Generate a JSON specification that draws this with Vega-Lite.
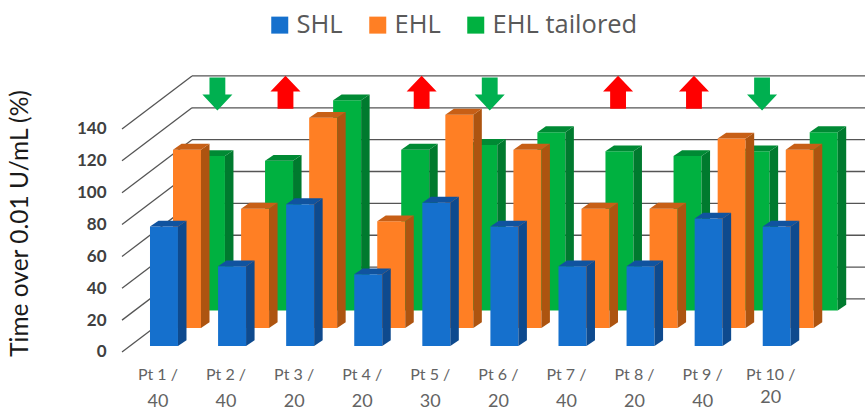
{
  "$schema": "https://vega.github.io/schema/vega-lite/v6.json",
  "width": 750,
  "height": 351,
  "padding": {"left": 115, "top": 60, "right": 0, "bottom": 0},
  "autosize": {"type": "none"},
  "background": "white",
  "config": {"view": {"stroke": null}, "font": "Lato"},
  "datasets": {
    "bars": [
      {"pt": 1, "patient": "Pt 1 /", "dose": "40", "series": "SHL", "value": 75},
      {"pt": 2, "patient": "Pt 2 /", "dose": "40", "series": "SHL", "value": 50},
      {"pt": 3, "patient": "Pt 3 /", "dose": "20", "series": "SHL", "value": 89},
      {"pt": 4, "patient": "Pt 4 /", "dose": "20", "series": "SHL", "value": 45},
      {"pt": 5, "patient": "Pt 5 /", "dose": "30", "series": "SHL", "value": 90},
      {"pt": 6, "patient": "Pt 6 /", "dose": "20", "series": "SHL", "value": 75},
      {"pt": 7, "patient": "Pt 7 /", "dose": "40", "series": "SHL", "value": 50},
      {"pt": 8, "patient": "Pt 8 /", "dose": "20", "series": "SHL", "value": 50},
      {"pt": 9, "patient": "Pt 9 /", "dose": "40", "series": "SHL", "value": 80},
      {"pt": 10, "patient": "Pt 10 /", "dose": "20", "series": "SHL", "value": 75},
      {"pt": 1, "patient": "Pt 1 /", "dose": "40", "series": "EHL", "value": 112},
      {"pt": 2, "patient": "Pt 2 /", "dose": "40", "series": "EHL", "value": 75},
      {"pt": 3, "patient": "Pt 3 /", "dose": "20", "series": "EHL", "value": 132},
      {"pt": 4, "patient": "Pt 4 /", "dose": "20", "series": "EHL", "value": 67},
      {"pt": 5, "patient": "Pt 5 /", "dose": "30", "series": "EHL", "value": 134},
      {"pt": 6, "patient": "Pt 6 /", "dose": "20", "series": "EHL", "value": 112},
      {"pt": 7, "patient": "Pt 7 /", "dose": "40", "series": "EHL", "value": 75},
      {"pt": 8, "patient": "Pt 8 /", "dose": "20", "series": "EHL", "value": 75},
      {"pt": 9, "patient": "Pt 9 /", "dose": "40", "series": "EHL", "value": 119},
      {"pt": 10, "patient": "Pt 10 /", "dose": "20", "series": "EHL", "value": 112},
      {"pt": 1, "patient": "Pt 1 /", "dose": "40", "series": "EHL tailored", "value": 97},
      {"pt": 2, "patient": "Pt 2 /", "dose": "40", "series": "EHL tailored", "value": 94},
      {"pt": 3, "patient": "Pt 3 /", "dose": "20", "series": "EHL tailored", "value": 132},
      {"pt": 4, "patient": "Pt 4 /", "dose": "20", "series": "EHL tailored", "value": 101},
      {"pt": 5, "patient": "Pt 5 /", "dose": "30", "series": "EHL tailored", "value": 104},
      {"pt": 6, "patient": "Pt 6 /", "dose": "20", "series": "EHL tailored", "value": 112},
      {"pt": 7, "patient": "Pt 7 /", "dose": "40", "series": "EHL tailored", "value": 100},
      {"pt": 8, "patient": "Pt 8 /", "dose": "20", "series": "EHL tailored", "value": 97},
      {"pt": 9, "patient": "Pt 9 /", "dose": "40", "series": "EHL tailored", "value": 100},
      {"pt": 10, "patient": "Pt 10 /", "dose": "20", "series": "EHL tailored", "value": 112}
    ],
    "ticks": [
      {"tick": 0}, {"tick": 20}, {"tick": 40}, {"tick": 60},
      {"tick": 80}, {"tick": 100}, {"tick": 120}, {"tick": 140}
    ],
    "changes": [
      {"pt": 1, "change": "down"},
      {"pt": 2, "change": "up"},
      {"pt": 4, "change": "up"},
      {"pt": 5, "change": "down"},
      {"pt": 7, "change": "up"},
      {"pt": 8, "change": "up"},
      {"pt": 9, "change": "down"}
    ]
  },
  "data": {"name": "bars"},
  "transform": [
    {"calculate": "datum.series === 'SHL' ? 0 : datum.series === 'EHL' ? 0.338 : 0.69", "as": "slotOffset"},
    {"calculate": "datum.series === 'SHL' ? 3.75 : datum.series === 'EHL' ? 15 : 26", "as": "floor"},
    {"calculate": "datum.pt - 1 + datum.slotOffset", "as": "left"},
    {"calculate": "datum.left + 0.411", "as": "right"},
    {"calculate": "datum.floor + datum.value", "as": "top"},
    {"calculate": "[0, 1]", "as": "depth"},
    {"flatten": ["depth"]},
    {"calculate": "datum.right + datum.depth * 0.125", "as": "sideX"},
    {"calculate": "datum.floor + datum.depth * 3.7", "as": "sideLow"},
    {"calculate": "datum.top + datum.depth * 3.7", "as": "sideHigh"},
    {"calculate": "datum.left + datum.depth * 0.125", "as": "capLeft"}
  ],
  "layer": [
    {
      "data": {"name": "ticks"},
      "transform": [{"calculate": "datum.tick + 33.3", "as": "wall"}],
      "mark": {"type": "rule", "color": "#555555", "strokeWidth": 1.3},
      "encoding": {
        "x": {"datum": 0.617, "type": "quantitative", "scale": {"domain": [-0.514, 10.502], "nice": false, "zero": false}, "axis": null},
        "x2": {"datum": 10.502},
        "y": {
          "field": "wall",
          "type": "quantitative",
          "scale": {"domain": [-37.04, 183.3], "nice": false, "zero": false},
          "axis": {
            "title": "Time over 0.01 U/mL (%)",
            "titleFont": "Lato",
            "titleFontSize": 24.5,
            "titleFontWeight": "normal",
            "titleColor": "#1a1a1a",
            "titleX": -83,
            "titleY": 163,
            "values": [0, 20, 40, 60, 80, 100, 120, 140],
            "domain": false,
            "ticks": false,
            "grid": false,
            "labelFont": "Lato",
            "labelFontSize": 17,
            "labelFontWeight": "bold",
            "labelColor": "#404040",
            "labelPadding": 9,
            "labelOverlap": false
          }
        }
      }
    },
    {
      "data": {"name": "ticks"},
      "transform": [{"calculate": "datum.tick + 33.3", "as": "wall"}],
      "mark": {"type": "rule", "color": "#555555", "strokeWidth": 1.3},
      "encoding": {
        "x": {"datum": -0.411, "type": "quantitative", "axis": null},
        "x2": {"datum": 0.617},
        "y": {"field": "tick", "type": "quantitative"},
        "y2": {"field": "wall"}
      }
    },
    {
      "data": {"name": "changes"},
      "transform": [
        {"filter": "datum.change === 'up'"},
        {"calculate": "datum.pt - 1 + (datum.pt === 7 ? 0.875 : 0.99)", "as": "slot"},
        {"calculate": "163", "as": "level"}
      ],
      "mark": {
        "type": "point",
        "filled": true,
        "opacity": 1,
        "color": "#ff0000",
        "size": 1089,
        "shape": "M0,-1 L0.91,-0.05 L0.48,-0.05 L0.48,1 L-0.48,1 L-0.48,-0.05 L-0.91,-0.05 Z"
      },
      "encoding": {
        "x": {"field": "slot", "type": "quantitative", "axis": null},
        "y": {"field": "level", "type": "quantitative"}
      }
    },
    {
      "data": {"name": "changes"},
      "transform": [
        {"filter": "datum.change === 'down'"},
        {"calculate": "datum.pt - 1 + 0.99", "as": "slot"},
        {"calculate": "162", "as": "level"}
      ],
      "mark": {
        "type": "point",
        "filled": true,
        "opacity": 1,
        "color": "#00b050",
        "size": 1089,
        "shape": "M-0.48,-1 L0.48,-1 L0.48,0.04 L0.91,0.04 L0,1 L-0.91,0.04 L-0.48,0.04 Z"
      },
      "encoding": {
        "x": {"field": "slot", "type": "quantitative", "axis": null},
        "y": {"field": "level", "type": "quantitative"}
      }
    },
    {
      "transform": [{"filter": "datum.series === 'EHL tailored'"}],
      "layer": [
        {
          "transform": [{"filter": "datum.depth === 0"}],
          "mark": {"type": "rect"},
          "encoding": {
            "x": {"field": "left", "type": "quantitative", "axis": null},
            "x2": {"field": "right"},
            "y": {"field": "floor", "type": "quantitative"},
            "y2": {"field": "top"},
            "color": {
              "field": "series",
              "type": "nominal",
              "scale": {"domain": ["SHL", "EHL", "EHL tailored"], "range": ["#1570cd", "#ff7f24", "#00b140"]},
              "legend": {
                "title": null,
                "orient": "none",
                "legendX": 152,
                "legendY": -48,
                "direction": "horizontal",
                "symbolType": "square",
                "symbolSize": 289,
                "symbolStrokeWidth": 0,
                "labelFont": "Open Sans",
                "labelFontSize": 25.5,
                "labelColor": "#595959",
                "labelOffset": 4,
                "columnPadding": 22
              }
            }
          }
        },
        {
          "mark": {"type": "area", "color": "#007a2e", "orient": "vertical"},
          "encoding": {
            "x": {"field": "sideX", "type": "quantitative", "axis": null},
            "y": {"field": "sideLow", "type": "quantitative", "stack": null},
            "y2": {"field": "sideHigh"},
            "detail": {"field": "pt"}
          }
        },
        {
          "mark": {"type": "area", "color": "#008a34", "orient": "horizontal"},
          "encoding": {
            "y": {"field": "sideHigh", "type": "quantitative"},
            "x": {"field": "capLeft", "type": "quantitative", "axis": null, "stack": null},
            "x2": {"field": "sideX"},
            "detail": {"field": "pt"}
          }
        }
      ]
    },
    {
      "transform": [{"filter": "datum.series === 'EHL'"}],
      "layer": [
        {
          "transform": [{"filter": "datum.depth === 0"}],
          "mark": {"type": "rect"},
          "encoding": {
            "x": {"field": "left", "type": "quantitative", "axis": null},
            "x2": {"field": "right"},
            "y": {"field": "floor", "type": "quantitative"},
            "y2": {"field": "top"},
            "color": {"field": "series", "type": "nominal"}
          }
        },
        {
          "mark": {"type": "area", "color": "#ad5410", "orient": "vertical"},
          "encoding": {
            "x": {"field": "sideX", "type": "quantitative", "axis": null},
            "y": {"field": "sideLow", "type": "quantitative", "stack": null},
            "y2": {"field": "sideHigh"},
            "detail": {"field": "pt"}
          }
        },
        {
          "mark": {"type": "area", "color": "#c75f16", "orient": "horizontal"},
          "encoding": {
            "y": {"field": "sideHigh", "type": "quantitative"},
            "x": {"field": "capLeft", "type": "quantitative", "axis": null, "stack": null},
            "x2": {"field": "sideX"},
            "detail": {"field": "pt"}
          }
        }
      ]
    },
    {
      "transform": [{"filter": "datum.series === 'SHL'"}],
      "layer": [
        {
          "transform": [{"filter": "datum.depth === 0"}],
          "mark": {"type": "rect"},
          "encoding": {
            "x": {"field": "left", "type": "quantitative", "axis": null},
            "x2": {"field": "right"},
            "y": {"field": "floor", "type": "quantitative"},
            "y2": {"field": "top"},
            "color": {"field": "series", "type": "nominal"}
          }
        },
        {
          "mark": {"type": "area", "color": "#0e4a8e", "orient": "vertical"},
          "encoding": {
            "x": {"field": "sideX", "type": "quantitative", "axis": null},
            "y": {"field": "sideLow", "type": "quantitative", "stack": null},
            "y2": {"field": "sideHigh"},
            "detail": {"field": "pt"}
          }
        },
        {
          "mark": {"type": "area", "color": "#10539f", "orient": "horizontal"},
          "encoding": {
            "y": {"field": "sideHigh", "type": "quantitative"},
            "x": {"field": "capLeft", "type": "quantitative", "axis": null, "stack": null},
            "x2": {"field": "sideX"},
            "detail": {"field": "pt"}
          }
        }
      ]
    },
    {
      "transform": [
        {"filter": "datum.series === 'SHL' && datum.depth === 0"},
        {"calculate": "datum.pt - 1 + 0.117", "as": "slot"},
        {"calculate": "-14.4", "as": "row"}
      ],
      "mark": {"type": "text", "font": "Lato", "fontSize": 16, "color": "#636363", "baseline": "middle"},
      "encoding": {
        "x": {"field": "slot", "type": "quantitative", "axis": null},
        "y": {"field": "row", "type": "quantitative"},
        "text": {"field": "patient"}
      }
    },
    {
      "transform": [
        {"filter": "datum.series === 'SHL' && datum.depth === 0"},
        {"calculate": "datum.pt - 1 + 0.117", "as": "slot"},
        {"calculate": "datum.pt === 10 ? -29 : -31.4", "as": "row"}
      ],
      "mark": {"type": "text", "font": "Lato", "fontSize": 18, "color": "#636363", "baseline": "middle"},
      "encoding": {
        "x": {"field": "slot", "type": "quantitative", "axis": null},
        "y": {"field": "row", "type": "quantitative"},
        "text": {"field": "dose"}
      }
    }
  ]
}
